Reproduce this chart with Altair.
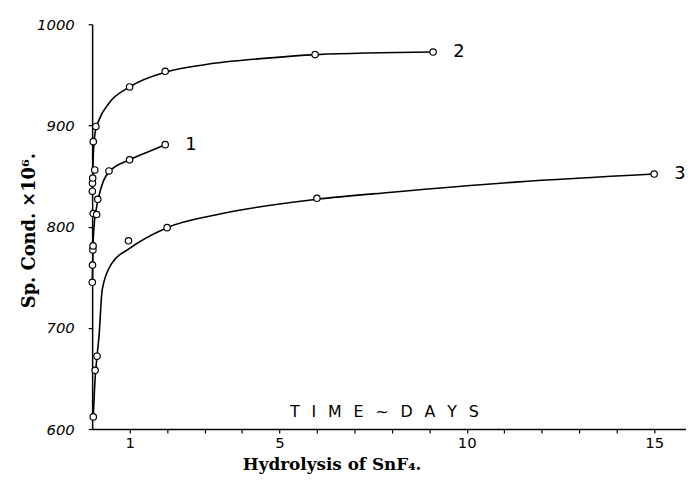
import altair as alt
import pandas as pd

# ---- measured points (time in days, specific conductance x 10^6) ----
c1_days = [0.005, 0.01, 0.02, 0.025, 0.03, 0.12, 0.15, 0.45, 1.0, 1.95]
c1_cond = [745, 762, 777, 781, 813, 812, 827, 855, 866, 881]

c2_days = [0.005, 0.01, 0.015, 0.07, 0.03, 0.1, 1.0, 1.95, 5.95, 9.1]
c2_cond = [835, 843, 848, 856, 884, 899, 938, 953.5, 970, 972.5]

c3_days = [0.03, 0.08, 0.13, 0.97, 2.0, 6.0, 15.0]
c3_cond = [612, 658, 672, 786, 799, 828, 852]

# ---- hand-drawn smooth curves ----
l1_days = [0.005, 0.02, 0.05, 0.1, 0.18, 0.3, 0.45, 1.0, 1.5, 1.95]
l1_cond = [745, 775, 800, 815, 830, 845, 854, 866, 874, 881]

l2_days = [0.005, 0.03, 0.08, 0.18, 0.45, 1.0, 2.0, 3.0, 4.5, 6.0, 9.1]
l2_cond = [835, 870, 893, 905, 922, 938, 953, 960, 966, 970, 972.5]

l3_days = [0.03, 0.08, 0.13, 0.18, 0.27, 0.53, 0.98, 2.0, 3.35, 6.0, 8.0, 11.3, 15.0]
l3_cond = [612, 650, 672, 690, 738, 764, 778, 799, 812, 827, 834, 844, 852]

curve_names = ["1", "2", "3"]
x_tick_values = list(range(1, 16))
x_labelled = [1, 5, 10, 15]
y_tick_values = [600, 700, 800, 900, 1000]

gap = "\u2002\u2005"
annotation_text = gap.join(list("TIME~DAYS"))
annotation_day = [7.8]
annotation_cond = [617]

# ---- tables ----
pts = pd.concat([
    pd.DataFrame({"day": d, "cond": c, "curve": n})
    for d, c, n in [(c1_days, c1_cond, "1"), (c2_days, c2_cond, "2"), (c3_days, c3_cond, "3")]
])
lines = pd.concat([
    pd.DataFrame({"day": d, "cond": c, "curve": n})
    for d, c, n in [(l1_days, l1_cond, "1"), (l2_days, l2_cond, "2"), (l3_days, l3_cond, "3")]
])
ends = pd.DataFrame({
    "day": [c1_days[-1], c2_days[-1], c3_days[-1]],
    "cond": [c1_cond[-1], c2_cond[-1], c3_cond[-1]],
    "label": curve_names,
})
note = pd.DataFrame({"day": annotation_day, "cond": annotation_cond, "text": [annotation_text]})

label_expr = "indexof([" + ",".join(str(v) for v in x_labelled) + "], datum.value) >= 0 ? datum.label : ''"

x_enc = alt.X(
    "day:Q",
    scale=alt.Scale(domain=[0, 15.85], nice=False, zero=False),
    axis=alt.Axis(
        values=x_tick_values,
        labelExpr=label_expr,
        title="Hydrolysis of SnF\u2084.",
        grid=False,
        domainColor="black",
        domainWidth=1.5,
        tickColor="black",
        tickWidth=1.2,
        tickSize=4,
        labelFont="DejaVu Sans",
        labelFontSize=15,
        labelColor="black",
        labelPadding=3,
        titleFont="DejaVu Serif",
        titleFontWeight="bold",
        titleFontSize=17,
        titleColor="black",
        titleX=242,
        titleY=41,
        titleBaseline="alphabetic",
        titleAlign="center",
    ),
)
y_enc = alt.Y(
    "cond:Q",
    scale=alt.Scale(domain=[600, 1000], nice=False, zero=False),
    axis=alt.Axis(
        values=y_tick_values,
        format="d",
        title="Sp. Cond. \u00d710\u2076.",
        grid=False,
        domainColor="black",
        domainWidth=1.5,
        tickColor="black",
        tickWidth=1.2,
        tickSize=4,
        labelFont="DejaVu Sans",
        labelFontStyle="italic",
        labelFontSize=15,
        labelColor="black",
        labelPadding=14,
        titleFont="DejaVu Serif",
        titleFontWeight="bold",
        titleFontSize=18,
        titleColor="black",
        titleX=-63,
        titleY=208,
        titleAngle=270,
        titleBaseline="middle",
        titleAlign="center",
    ),
)

line_layer = alt.Chart(lines).mark_line(
    color="black", strokeWidth=1.6, interpolate="monotone"
).encode(x=x_enc, y=y_enc, detail="curve:N")

point_layer = alt.Chart(pts).mark_point(
    shape="circle", size=42, filled=False, fill="white", fillOpacity=1,
    stroke="black", strokeWidth=1.2, opacity=1
).encode(x="day:Q", y="cond:Q")

label_layer = alt.Chart(ends).mark_text(
    dx=26, align="center", baseline="middle", font="DejaVu Sans",
    fontSize=18, color="black"
).encode(x="day:Q", y="cond:Q", text="label:N")

note_layer = alt.Chart(note).mark_text(
    align="center", baseline="middle", font="DejaVu Sans",
    fontSize=16, color="black"
).encode(x="day:Q", y="cond:Q", text="text:N")

chart = alt.layer(line_layer, point_layer, label_layer, note_layer).properties(
    width=600,
    height=409,
    autosize=alt.AutoSizeParams(type="none"),
    padding={"left": 85, "top": 14, "right": 0, "bottom": 43},
    background="white",
).configure_view(strokeWidth=0)

chart.save("out.html", embed_options={"renderer": "svg", "actions": False})
